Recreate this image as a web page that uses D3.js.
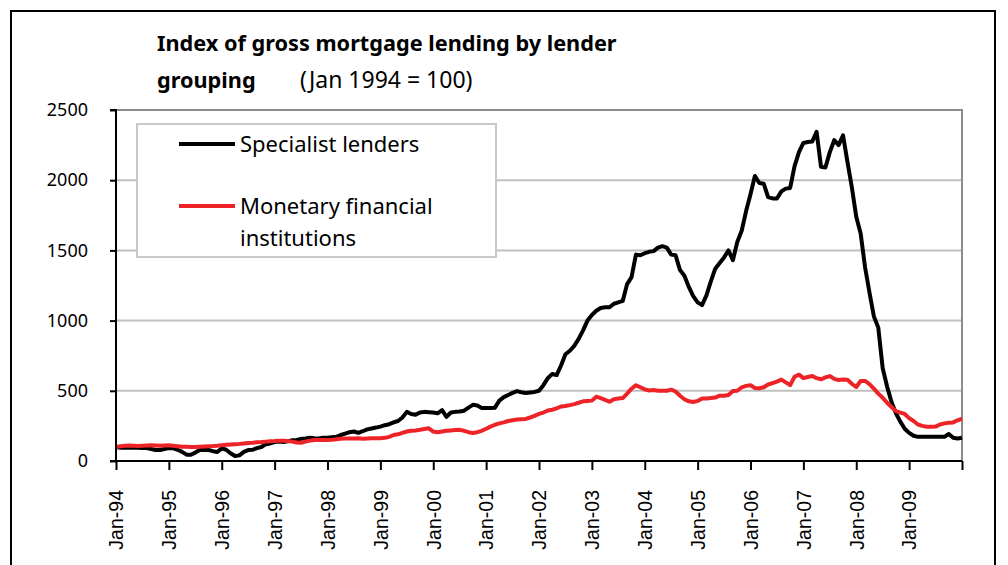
<!DOCTYPE html>
<meta charset="utf-8">
<style>
  body { margin: 0; background: #fff; }
  text { font-family: "Noto Sans", sans-serif; fill: #000; }
  .grid line { stroke: #c0c0c0; stroke-width: 2px; }
  .line { fill: none; stroke-width: 4px; stroke-linejoin: round; }
</style>
<svg width="1008" height="565"></svg>
<script src="https://d3js.org/d3.v7.min.js"></script>
<script>

// monthly index, Jan 1994 = 100 (Jan-94 .. Jan-10)
var specialist = [
  100, 95, 95, 96, 95, 94, 92, 92, 85, 78, 78, 85,
  92, 90, 80, 65, 45, 45, 60, 78, 80, 78, 70, 64,
  90, 80, 55, 36, 40, 65, 78, 80, 92, 100, 120, 125,
  135, 138, 135, 140, 148, 150, 158, 160, 165, 162, 160, 165,
  165, 170, 172, 185, 195, 205, 210, 200, 212, 225, 232, 238,
  245, 255, 262, 275, 285, 310, 350, 335, 330, 345, 350, 348,
  345, 340, 362, 315, 345, 350, 352, 358, 380, 400, 395, 378,
  378, 377, 380, 430, 455, 470, 485, 498, 490, 484, 488, 492,
  500, 540, 590, 620, 612, 680, 760, 785, 820, 870, 930, 1000,
  1040, 1070, 1090, 1095, 1095, 1120, 1130, 1140, 1260, 1310, 1470, 1465,
  1480, 1490, 1495, 1520, 1530, 1520, 1470, 1465, 1360, 1320, 1240, 1175,
  1130, 1110, 1180, 1280, 1370, 1410, 1450, 1500, 1430, 1560, 1640, 1780,
  1900, 2030, 1980, 1975, 1880, 1870, 1870, 1920, 1940, 1945, 2100, 2200,
  2265, 2272, 2275, 2345, 2095, 2090, 2200, 2285, 2250, 2320, 2130, 1950,
  1740, 1620, 1380, 1200, 1030, 950, 660, 530, 420, 340, 280, 230,
  200, 180, 172, 172, 172, 172, 172, 172, 172, 192, 165, 160,
  166
];

var monetary = [
  100, 105, 108, 110, 108, 106, 108, 110, 112, 110, 108, 110,
  112, 108, 105, 102, 102, 100, 100, 102, 104, 105, 106, 108,
  112, 115, 118, 120, 122, 125, 128, 130, 133, 135, 138, 140,
  142, 145, 145, 143, 138, 132, 130, 138, 145, 150, 150, 150,
  150, 152, 155, 158, 160, 160, 160, 162, 158, 160, 162, 162,
  162, 165, 172, 185, 190, 200, 210, 215, 218, 222, 228, 233,
  210, 205, 210, 215, 218, 220, 222, 215, 205, 200, 205, 215,
  230, 245, 258, 268, 275, 285, 290, 295, 298, 300, 310, 322,
  335, 345, 360, 365, 375, 388, 392, 398, 405, 415, 425, 428,
  430, 458, 448, 435, 422, 440, 445, 448, 480, 515, 540, 525,
  510, 502, 505, 500, 500, 500, 508, 495, 465, 440, 425, 420,
  428, 445, 445, 448, 452, 465, 465, 470, 498, 500, 525, 535,
  540, 520, 518, 525, 545, 555, 565, 580, 560, 540, 600, 615,
  590, 598, 605, 590, 582, 595, 605, 585, 577, 580, 578, 550,
  527, 570, 570, 548, 515, 480, 450, 415, 385, 355, 345, 335,
  305, 285, 260, 250, 244, 244, 245, 260, 268, 272, 275, 290,
  302
];

var yearLabels = ["Jan-94", "Jan-95", "Jan-96", "Jan-97", "Jan-98", "Jan-99", "Jan-00", "Jan-01",
  "Jan-02", "Jan-03", "Jan-04", "Jan-05", "Jan-06", "Jan-07", "Jan-08", "Jan-09"];
var yTicks = [0, 500, 1000, 1500, 2000, 2500];

var svg = d3.select("svg"),
    margin = {top: 110, right: 46, bottom: 104, left: 116},
    width = +svg.attr("width") - margin.left - margin.right,
    height = +svg.attr("height") - margin.top - margin.bottom;

var x = d3.scaleLinear().domain([0, specialist.length - 1]).range([0, width]),
    y = d3.scaleLinear().domain([0, 2500]).range([height, 0]);

// outer frame
svg.append("path")
    .attr("d", "M11,570 V11 H995 V570")
    .attr("fill", "none")
    .attr("stroke", "#000")
    .attr("stroke-width", 2);

// title
svg.append("text").attr("x", 157).attr("y", 51)
    .style("font-weight", "bold").style("font-size", "21.7px")
    .text("Index of gross mortgage lending by lender");
svg.append("text").attr("x", 157).attr("y", 88)
    .style("font-weight", "bold").style("font-size", "21.7px")
    .text("grouping");
svg.append("text").attr("x", 300).attr("y", 88)
    .style("font-size", "23px")
    .text("(Jan 1994 = 100)");

var g = svg.append("g")
    .attr("transform", "translate(" + margin.left + "," + margin.top + ")");

// gridlines
g.append("g")
    .attr("class", "grid")
    .selectAll("line")
    .data(yTicks.filter(function(d) { return d > 0 && d < 2500; }))
    .enter().append("line")
    .attr("x1", 0).attr("x2", width)
    .attr("y1", function(d) { return y(d); })
    .attr("y2", function(d) { return y(d); });

// plot border top/right
g.append("path")
    .attr("d", "M0," + y(2500) + " H" + width + " V" + height)
    .attr("fill", "none")
    .attr("stroke", "#8c8c8c")
    .attr("stroke-width", 2);

// legend
var legend = g.append("g").attr("transform", "translate(21,14)");
legend.append("rect")
    .attr("width", 359).attr("height", 133)
    .attr("fill", "#fff")
    .attr("stroke", "#c8c8c8")
    .attr("stroke-width", 2);
legend.append("line")
    .attr("x1", 42).attr("x2", 98).attr("y1", 20).attr("y2", 20)
    .attr("stroke", "#000").attr("stroke-width", 4);
legend.append("text").attr("x", 103).attr("y", 28)
    .style("font-size", "22px").text("Specialist lenders");
legend.append("line")
    .attr("x1", 42).attr("x2", 98).attr("y1", 82).attr("y2", 82)
    .attr("stroke", "#ed2328").attr("stroke-width", 4);
legend.append("text").attr("x", 103).attr("y", 90)
    .style("font-size", "22px").text("Monetary financial");
legend.append("text").attr("x", 103).attr("y", 122)
    .style("font-size", "22px").text("institutions");

// series
var line = d3.line()
    .x(function(d, i) { return x(i); })
    .y(function(d) { return y(d); });

g.append("path")
    .datum(specialist)
    .attr("class", "line")
    .attr("stroke", "#000")
    .attr("d", line);

g.append("path")
    .datum(monetary)
    .attr("class", "line")
    .attr("stroke", "#ed2328")
    .attr("d", line);

// y axis
var yAxis = d3.axisLeft(y).tickValues(yTicks).tickSize(6).tickPadding(22).tickFormat(d3.format("d"));
var ya = g.append("g").call(yAxis);
ya.select(".domain").attr("stroke-width", 2).attr("d", "M-6," + y(2500) + "H0V" + height + "H-6");
ya.selectAll(".tick line").attr("stroke-width", 2);
ya.selectAll("text").style("font-size", "18px").style("font-family", "'Noto Sans', sans-serif");

// x axis
var xTickVals = yearLabels.map(function(d, i) { return i * 12; }).concat([specialist.length - 1]);
var xAxis = d3.axisBottom(x).tickValues(xTickVals).tickSize(9)
    .tickFormat(function(d) { return d / 12 < yearLabels.length ? yearLabels[d / 12] : ""; });
var xa = g.append("g").attr("transform", "translate(0," + height + ")").call(xAxis);
xa.select(".domain").attr("stroke-width", 2).attr("d", "M0,0H" + width);
xa.selectAll(".tick line").attr("stroke-width", 2);
xa.selectAll("text")
    .style("font-size", "19.5px")
    .style("font-family", "'Liberation Sans', Arial, sans-serif")
    .attr("text-anchor", "end")
    .attr("transform", "rotate(-90)")
    .attr("x", -29)
    .attr("y", 0)
    .attr("dy", "0.35em");

</script>
</html>
